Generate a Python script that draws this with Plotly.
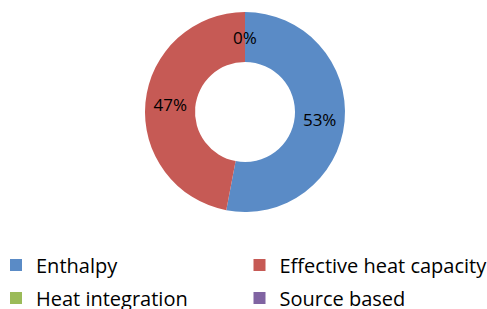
import math
import plotly.graph_objects as go

labels = ["Enthalpy", "Effective heat capacity", "Heat integration", "Source based"]
values = [53, 47, 0, 0]
colors = ["#5A8BC6", "#C65A55", "#9BBB59", "#8064A2"]
W, H = 487, 309

# donut geometry (pixels)
CX, CY, R_OUT, HOLE = 245, 112, 100, 0.5
dom = dict(x=[(CX - R_OUT) / W, (CX + R_OUT) / W],
           y=[(H - CY - R_OUT) / H, (H - CY + R_OUT) / H])
pct_font = dict(family="Open Sans", size=17, color="#000000")

fig = go.Figure()
fig.add_trace(go.Pie(
    labels=labels, values=values, hole=HOLE, sort=False,
    direction="clockwise", rotation=0,
    marker=dict(colors=colors, line=dict(width=0)),
    texttemplate="%{percent:.0%}", textposition="inside",
    insidetextorientation="horizontal", textfont=pct_font,
    domain=dom, showlegend=False,
))

# legend: one small legend per entry, laid out as 2 rows x 2 columns.
# Each entry comes from a helper pie with a degenerate (sub-pixel) domain,
# so it draws nothing visible but still produces its legend swatch.
CLEAR = "rgba(0,0,0,0)"
leg_font = dict(family="Open Sans", size=20, color="#000000")
col_px = [16, 259.5]   # marker-centre x of the legend columns
row_px = [265, 298]    # centre y of the legend rows
tiny = dict(x=[0.5, 0.5 + 1e-5], y=[0.64, 0.64 + 1e-5])
layout_legends = {}
for i, (lab, col) in enumerate(zip(labels, colors)):
    name = "legend" if i == 0 else f"legend{i + 1}"
    fig.add_trace(go.Pie(
        labels=[lab], values=[1], sort=False,
        marker=dict(colors=[col], line=dict(width=0)),
        domain=tiny, textinfo="none", hoverinfo="skip", legend=name,
    ))
    layout_legends[name] = dict(
        orientation="h", xref="paper", yref="paper",
        xanchor="left", yanchor="middle",
        x=(col_px[i % 2] - 20) / W, y=(H - row_px[i // 2]) / H,
        font=leg_font, itemclick=False, bgcolor=CLEAR,
    )

# labels for zero-valued slices (plotly does not label empty slices)
total = sum(values)
cum = 0
r_mid = R_OUT * (1 + HOLE) / 2
for lab, v in zip(labels, values):
    if v == 0:
        th = 2 * math.pi * cum / total
        px = CX + r_mid * math.sin(th)
        py = CY - r_mid * math.cos(th)
        fig.add_annotation(x=px / W, y=1 - py / H, xref="paper", yref="paper",
                           xanchor="center", yanchor="middle",
                           text="0%", showarrow=False, font=pct_font)
        break
    cum += v

fig.update_layout(
    width=W, height=H,
    margin=dict(l=0, r=0, t=0, b=0, autoexpand=False),
    paper_bgcolor="white",
    **layout_legends,
)

fig.write_html("out.html", config={"displayModeBar": False},
               post_script="document.body.style.margin='0';")
